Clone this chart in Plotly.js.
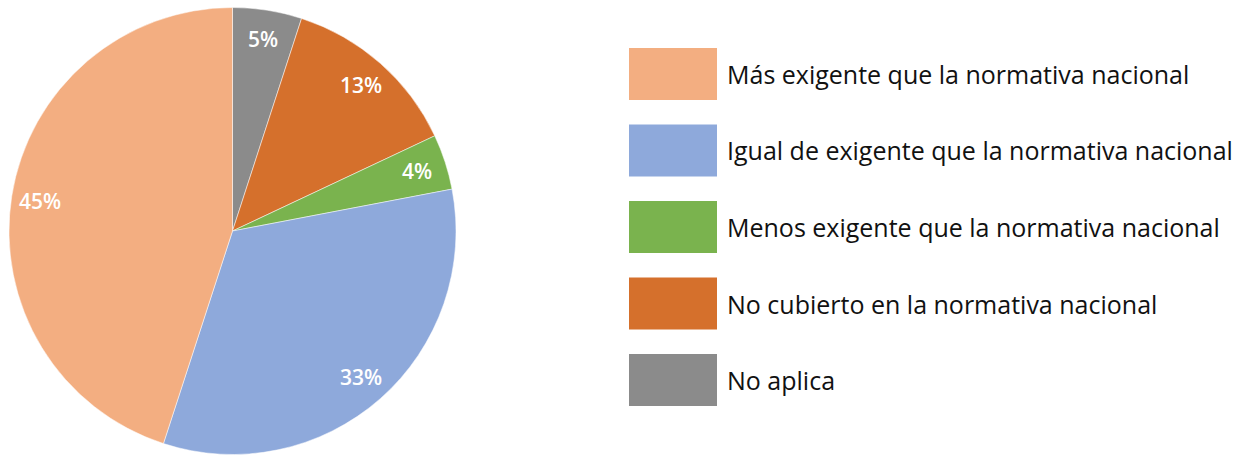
<!DOCTYPE html>
<html>
<head>
<meta charset="utf-8">
<script src="https://cdn.plot.ly/plotly-3.0.1.min.js"></script>
<style>html,body{margin:0;padding:0;background:#fff;}#chart{width:1247px;height:455px;}</style>
</head>
<body>
<div id="chart"></div>
<script>
const labels = [
  "Más exigente que la normativa nacional",
  "Igual de exigente que la normativa nacional",
  "Menos exigente que la normativa nacional",
  "No cubierto en la normativa nacional",
  "No aplica"
];
const values = [45, 33, 4, 13, 5];
const colors = ["#F3AE81", "#8EA9DB", "#7AB34E", "#D5702C", "#8B8B8B"];

const W = 1247, H = 455;
// pie geometry (pixels)
const cx = 232.5, cy = 231, R = 223.5;
const labelR = 0.87 * R;

const total = values.reduce((a, b) => a + b, 0);
const annotations = [];
const shapes = [];
let cum = 0;
values.forEach((v, i) => {
  const mid = (cum + v / 2) / total;   // fraction, counterclockwise from 12 o'clock
  cum += v;
  const ang = -mid * 2 * Math.PI;
  const px = cx + labelR * Math.sin(ang);
  const py = cy - labelR * Math.cos(ang);
  annotations.push({
    xref: "paper", yref: "paper", x: px / W, y: 1 - py / H,
    text: Math.round(v / total * 100) + "%", showarrow: false,
    xanchor: "center", yanchor: "middle",
    font: {family: "Open Sans", size: 21, color: "#ffffff", weight: 600}
  });
});

// custom legend
const legX0 = 629, legX1 = 717, legY0 = 48, legH = 52, legStep = 76.5;
labels.forEach((lab, i) => {
  const y0 = legY0 + i * legStep;
  shapes.push({
    type: "rect", xref: "paper", yref: "paper",
    x0: legX0 / W, x1: legX1 / W, y0: 1 - (y0 + legH) / H, y1: 1 - y0 / H,
    fillcolor: colors[i], line: {width: 0}
  });
  annotations.push({
    xref: "paper", yref: "paper", x: 725 / W, y: 1 - (y0 + legH / 2) / H,
    text: lab, showarrow: false, xanchor: "left", yanchor: "middle",
    font: {family: "Open Sans", size: 25, color: "#111111"}
  });
});

// slices run counterclockwise from 12 o'clock in list order;
// drawn clockwise with the list reversed
const trace = {
  type: "pie",
  labels: labels.slice().reverse(),
  values: values.slice().reverse(),
  sort: false,
  direction: "clockwise",
  rotation: 0,
  marker: {colors: colors.slice().reverse(), line: {color: "#ffffff", width: 0.5}},
  textinfo: "none",
  hoverinfo: "label+percent",
  showlegend: false,
  domain: {x: [(cx - R) / W, (cx + R) / W], y: [1 - (cy + R) / H, 1 - (cy - R) / H]}
};

const layout = {
  width: W, height: H,
  margin: {l: 0, r: 0, t: 0, b: 0},
  paper_bgcolor: "#ffffff",
  showlegend: false,
  annotations: annotations,
  shapes: shapes,
  font: {family: "Open Sans"}
};

Plotly.newPlot("chart", [trace], layout, {displayModeBar: false, staticPlot: true});
</script>
</body>
</html>
